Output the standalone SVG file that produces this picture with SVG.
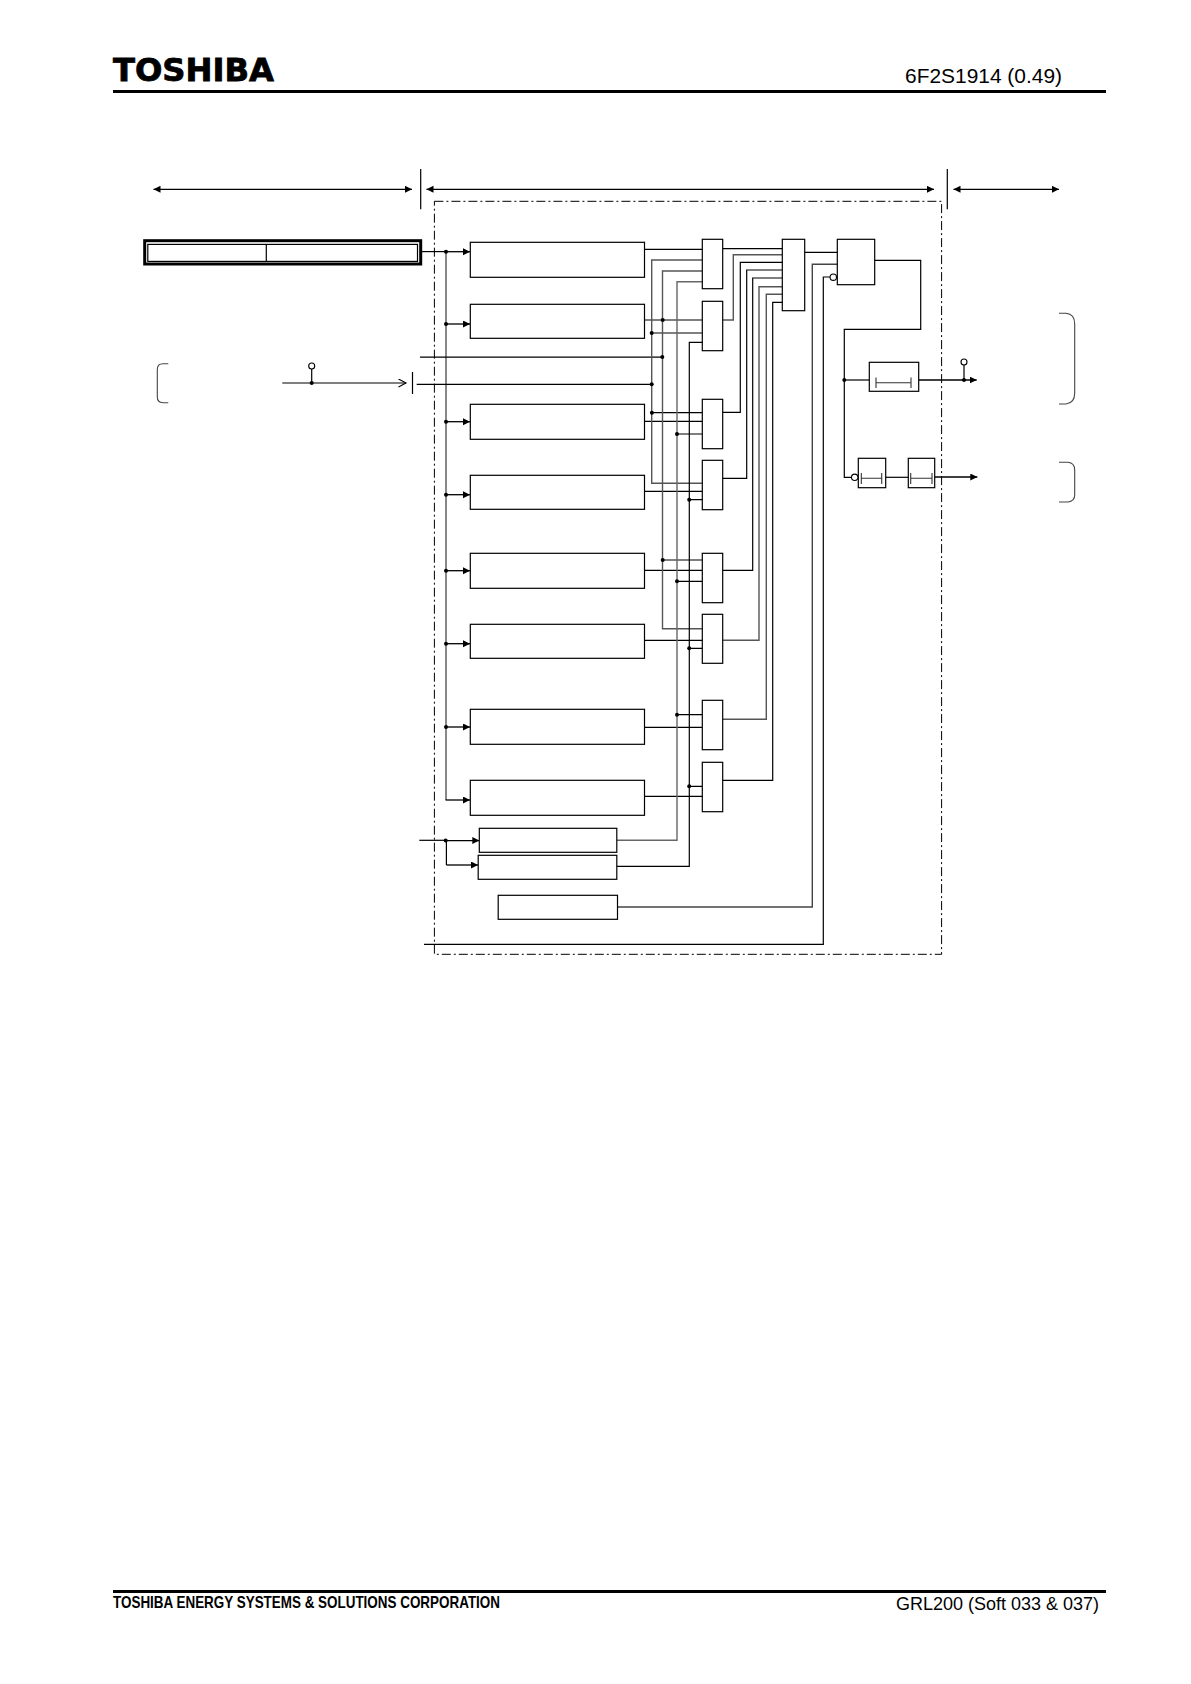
<svg xmlns="http://www.w3.org/2000/svg" width="1191" height="1684" viewBox="0 0 1191 1684">
<style>
.b{fill:#fff;stroke:#000;stroke-width:1.2}
.l{fill:none;stroke:#000;stroke-width:1.2}
.g{fill:none;stroke:#555;stroke-width:1.4}
.d{fill:#000;stroke:none}
.o{fill:#fff;stroke:#000;stroke-width:1.1}
.a{fill:none;stroke:#000;stroke-width:1.3;marker-end:url(#ah)}
.aa{fill:none;stroke:#000;stroke-width:1.3;marker-end:url(#ah);marker-start:url(#ah)}
.t{fill:none;stroke:#333;stroke-width:1.1}
.br{fill:none;stroke:#444;stroke-width:1.1}
.f{font-family:"Liberation Sans",Arial,sans-serif;fill:#000}
</style>
<defs>
<marker id="ah" markerUnits="userSpaceOnUse" markerWidth="8" markerHeight="8" refX="7" refY="3.5" orient="auto-start-reverse"><path d="M0 0L7 3.5L0 7Z" fill="#000"/></marker>
<marker id="oh" markerUnits="userSpaceOnUse" markerWidth="10" markerHeight="10" refX="8" refY="4.5" orient="auto"><path d="M0.5 0.5L8 4.5L0.5 8.5" fill="none" stroke="#000" stroke-width="1.1"/></marker>
</defs>
<g id="page-frame">
<text class="f" x="113" y="80.5" style="font-family:'DejaVu Sans',sans-serif;font-weight:700;font-size:32px;stroke:#000;stroke-width:.8" textLength="161" lengthAdjust="spacingAndGlyphs">TOSHIBA</text>
<text class="f" x="905" y="83.3" font-size="21" textLength="157" lengthAdjust="spacingAndGlyphs">6F2S1914 (0.49)</text>
<rect x="113" y="90" width="993" height="3" fill="#000"/>
<rect x="113" y="1590" width="993" height="3" fill="#000"/>
<text class="f" x="113" y="1608.2" font-size="17" font-weight="700" textLength="387" lengthAdjust="spacingAndGlyphs">TOSHIBA ENERGY SYSTEMS &amp; SOLUTIONS CORPORATION</text>
<text class="f" x="896" y="1610.2" font-size="18" textLength="203" lengthAdjust="spacingAndGlyphs">GRL200 (Soft 033 &amp; 037)</text>
</g>
<g id="zone-markers">
<path class="aa" d="M153.5 189.3H412"/>
<path class="aa" d="M426.5 189.3H934"/>
<path class="aa" d="M953.5 189.3H1059"/>
<path class="l" d="M420.7 169V209.3M947.3 169V209.3"/>
<rect x="434.4" y="201.3" width="507.2" height="753" fill="none" stroke="#000" stroke-width="1" stroke-dasharray="9 3 2 3"/>
<path class="br" d="M168.3 363.7H163Q157.3 363.7 157.3 369.5V397Q157.3 402.7 163 402.7H168.3"/>
<path class="br" d="M1059 313.3H1066Q1074.7 314 1074.7 324V393Q1074.7 403 1066 404H1059"/>
<path class="br" d="M1059 462.3H1068Q1074.7 463 1074.7 470V495Q1074.7 501 1068 502H1059"/>
</g>
<g id="connectors">
<!-- inputs -->
<path class="l" d="M422 251.6H446"/>
<path class="g" d="M446 251.6V800"/>
<path class="a" d="M446 251.7H470"/>
<path class="a" d="M446 324H470"/>
<path class="a" d="M446 421.7H470"/>
<path class="a" d="M446 494.7H470"/>
<path class="a" d="M446 570.7H470"/>
<path class="a" d="M446 643.7H470"/>
<path class="a" d="M446 727H470"/>
<path class="a" d="M445.6 800H470"/>
<path class="l" d="M420 357.2H662.3"/>
<path class="l" d="M416.7 384.3H651.7"/>
<path class="l" d="M412.5 372V394"/>
<path class="g" d="M282.3 383H406" marker-end="url(#oh)"/>
<path class="l" d="M311.7 369V383"/>
<path class="l" d="M419.3 840.3H445.7"/>
<path class="a" d="M445.7 840.6H479.3"/>
<path class="l" d="M446.4 840.6V865"/>
<path class="a" d="M446.4 865H478"/>
<!-- block outputs to gates -->
<path class="l" d="M644.5 249.3H702.3"/>
<path class="l" d="M644.5 320H702.3"/>
<path class="l" d="M644.5 421.3H702.3"/>
<path class="l" d="M644.5 491.3H702.3"/>
<path class="l" d="M644.5 570.3H702.3"/>
<path class="l" d="M644.5 640.3H702.3"/>
<path class="l" d="M644.5 727.3H702.3"/>
<path class="l" d="M644.5 796.3H702.3"/>
<!-- buses -->
<path class="g" d="M702.3 260H651.7V483.3H702.3"/>
<path class="l" d="M651.7 333H702.3M651.7 412.7H702.3"/>
<path class="g" d="M702.3 271H662.5V628.7H702.3"/>
<path class="l" d="M662.5 560H702.3"/>
<path class="g" d="M702.3 281.7H677V840.3H616.8" style="stroke:#666"/>
<path class="l" d="M677 434H702.3M677 581.3H702.3M677 714.7H702.3"/>
<path class="l" d="M702.3 342.3H689.3V866.3H616.8"/>
<path class="l" d="M689.3 499.7H702.3M689.3 648.3H702.3M689.3 786.3H702.3"/>
<!-- gate outputs to OR -->
<path class="l" d="M722.7 248.7H782.3"/>
<path class="g" d="M722.7 320H733.3V254.7H782.3"/>
<path class="l" d="M722.7 412.3H740.3V262.3H782.3"/>
<path class="l" d="M722.7 478.3H746.7V270H782.3"/>
<path class="l" d="M722.7 570.3H752.7V278H782.3"/>
<path class="g" d="M722.7 640.3H759V286.7H782.3"/>
<path class="g" d="M722.7 719.3H766.3V294.3H782.3"/>
<path class="l" d="M722.7 780.3H772.7V302.3H782.3"/>
<!-- final logic -->
<path class="l" d="M804.7 252.3H837.3"/>
<path class="g" d="M837.3 264.3H812.3V907H617.5" style="stroke:#444"/>
<path class="l" d="M830 277H823.3V944.3H424"/>
<path class="l" d="M874.7 260.3H920.7V329.3H844.3V477.3H851.4"/>
<path class="l" d="M844.3 380H869.3"/>
<path class="l" d="M885.7 477.3H908.3"/>
<path class="a" d="M918.7 380H976.7"/>
<path class="l" d="M964 365V380"/>
<path class="a" d="M934.7 477H977.3" style="stroke-width:1.6"/>
<!-- junctions -->
<g class="d">
<circle cx="446" cy="251.7" r="2"/><circle cx="446" cy="324" r="2"/><circle cx="446" cy="421.7" r="2"/><circle cx="446" cy="494.7" r="2"/><circle cx="446" cy="570.7" r="2"/><circle cx="446" cy="643.7" r="2"/><circle cx="446" cy="727" r="2"/>
<circle cx="445.7" cy="840.6" r="2"/><circle cx="311.7" cy="383" r="2"/>
<circle cx="651.7" cy="333" r="2"/><circle cx="651.7" cy="384.3" r="2"/><circle cx="651.9" cy="412.7" r="2"/>
<circle cx="662.7" cy="320" r="2"/><circle cx="662.3" cy="357" r="2"/><circle cx="662.7" cy="560" r="2"/>
<circle cx="677" cy="434" r="2"/><circle cx="677" cy="581.3" r="2"/><circle cx="677" cy="714.7" r="2"/>
<circle cx="689.2" cy="499.7" r="2"/><circle cx="689.2" cy="648.3" r="2"/><circle cx="689.2" cy="786.3" r="2"/>
<circle cx="844.3" cy="380" r="2"/><circle cx="964" cy="380" r="2"/>
</g>
</g>
<g id="setting-block">
<rect x="144.7" y="240.7" width="276" height="23.3" fill="#fff" stroke="#000" stroke-width="3"/>
<rect x="147.8" y="244.4" width="269.7" height="17" class="b"/>
<path class="l" d="M266.3 244.4V261.4"/>
</g>
<g id="ext-signal-test"><circle class="o" cx="311.7" cy="366" r="3"/></g>
<g id="block-1"><rect class="b" x="470.3" y="242.3" width="174.2" height="35"/></g>
<g id="block-2"><rect class="b" x="470.3" y="304.3" width="174.2" height="34"/></g>
<g id="block-3"><rect class="b" x="470.3" y="404.3" width="174.2" height="35"/></g>
<g id="block-4"><rect class="b" x="470.3" y="475.3" width="174.2" height="34"/></g>
<g id="block-5"><rect class="b" x="470.3" y="553.3" width="174.2" height="35"/></g>
<g id="block-6"><rect class="b" x="470.3" y="624.3" width="174.2" height="34"/></g>
<g id="block-7"><rect class="b" x="470.3" y="709.3" width="174.2" height="35"/></g>
<g id="block-8"><rect class="b" x="470.3" y="780.3" width="174.2" height="35"/></g>
<g id="small-1"><rect class="b" x="479.3" y="828.3" width="137.5" height="24"/></g>
<g id="small-2"><rect class="b" x="478.2" y="855.3" width="138.6" height="24"/></g>
<g id="small-3"><rect class="b" x="498.2" y="895.3" width="119.3" height="24"/></g>
<g id="gate-1"><rect class="b" x="702.3" y="239.3" width="20.4" height="49.4"/></g>
<g id="gate-2"><rect class="b" x="702.3" y="301.3" width="20.4" height="49.4"/></g>
<g id="gate-3"><rect class="b" x="702.3" y="399.3" width="20.4" height="49.4"/></g>
<g id="gate-4"><rect class="b" x="702.3" y="460.3" width="20.4" height="49.4"/></g>
<g id="gate-5"><rect class="b" x="702.3" y="553.3" width="20.4" height="49.4"/></g>
<g id="gate-6"><rect class="b" x="702.3" y="614.3" width="20.4" height="49"/></g>
<g id="gate-7"><rect class="b" x="702.3" y="700.3" width="20.4" height="49.4"/></g>
<g id="gate-8"><rect class="b" x="702.3" y="762.3" width="20.4" height="49.4"/></g>
<g id="or-gate"><rect class="b" x="782.3" y="239.3" width="22.4" height="71.4"/></g>
<g id="and-final"><rect class="b" x="837.3" y="239.3" width="37.4" height="45.4"/><circle class="o" cx="833.3" cy="277.2" r="3.2"/></g>
<g id="timer-1"><rect class="b" x="869.3" y="362.3" width="49.4" height="29"/><path class="t" d="M876 382.7H911M876 377.5V388M911 377.5V388"/></g>
<g id="timer-2"><rect class="b" x="858.3" y="458.3" width="27.4" height="29.4"/><path class="t" d="M861.3 478.3H881.7M861.3 473V484M881.7 473V484"/><circle class="o" cx="854.7" cy="477.3" r="3.2"/></g>
<g id="timer-3"><rect class="b" x="908.3" y="458.3" width="26.4" height="29.4"/><path class="t" d="M910.7 478.3H932M910.7 473V484M932 473V484"/></g>
<g id="out-test"><circle class="o" cx="964" cy="362" r="3"/></g>
</svg>
